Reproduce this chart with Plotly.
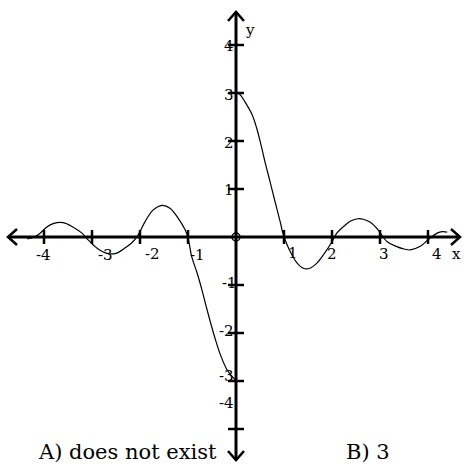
import plotly.graph_objects as go

# ---- data ----
x_left = [-4.35, -4.2, -4.08, -3.94, -3.81, -3.6, -3.4, -3.21, -3.08, -2.9, -2.69, -2.5,
          -2.3, -2.17, -2.04, -1.9, -1.73, -1.54, -1.375, -1.21, -1.06, -1.0, -0.92,
          -0.81, -0.71, -0.62, -0.54, -0.44, -0.33, -0.19, -0.06, 0.0]
y_left = [-0.04, 0.0, 0.08, 0.21, 0.28, 0.3, 0.21, 0.08, -0.06, -0.23, -0.34, -0.34,
          -0.22, -0.12, 0.04, 0.31, 0.56, 0.66, 0.6, 0.4, 0.15, -0.02, -0.42,
          -0.75, -1.1, -1.45, -1.75, -2.1, -2.44, -2.76, -2.93, -2.98]

x_right = [0.0, 0.08, 0.19, 0.33, 0.43, 0.54, 0.6, 0.71, 0.81, 0.92, 0.98, 1.06, 1.17,
           1.27, 1.4, 1.54, 1.69, 1.85, 2.0, 2.1, 2.23, 2.4, 2.54, 2.65, 2.79, 2.96,
           3.15, 3.35, 3.5, 3.63, 3.83, 4.0, 4.19, 4.3, 4.4]
y_right = [3.0, 2.97, 2.81, 2.56, 2.27, 1.84, 1.58, 1.15, 0.75, 0.32, 0.07, -0.15, -0.38,
           -0.54, -0.65, -0.65, -0.54, -0.33, -0.1, 0.08, 0.21, 0.34, 0.38, 0.37, 0.31, 0.15,
           -0.1, -0.2, -0.25, -0.27, -0.2, -0.06, 0.08, 0.11, 0.1]

x_ticks = [-4, -3, -2, -1, 1, 2, 3, 4]
y_ticks = [-4, -3, -2, -1, 1, 2, 3, 4]
x_tick_labels = ["-4", "-3", "-2", "-1", "1", "2", "3", "4"]
y_tick_labels = ["-4", "-3", "-2", "-1", "1", "2", "3", "4"]
answer_a = "A) does not exist"
answer_b = "B) 3"

# ---- layout helpers (pixel scale: 48 px per unit, origin at 236,237) ----
W, H = 464, 466
PX = 48.0
OX, OY = 236, 237
def dx(px): return (px - OX) / PX
def dy(py): return (OY - py) / PX

x_min, x_max = dx(0), dx(W)
y_min, y_max = dy(H), dy(0)

fig = go.Figure()
black = "#000000"

# axes
ax_l, ax_r = dx(8), dx(460)
ax_t, ax_b = dy(12), dy(460)
fig.add_trace(go.Scatter(x=[ax_l, ax_r], y=[0, 0], mode="lines",
                         line=dict(color=black, width=3), hoverinfo="skip"))
fig.add_trace(go.Scatter(x=[0, 0], y=[ax_b, ax_t], mode="lines",
                         line=dict(color=black, width=3), hoverinfo="skip"))

# arrowheads (open chevrons)
ah = 9 / PX
aw = 8 / PX
arrow_x = [ax_l + ah, ax_l, ax_l + ah, None, ax_r - ah, ax_r, ax_r - ah, None,
           -aw, 0, aw, None, -aw, 0, aw]
arrow_y = [aw, 0, -aw, None, aw, 0, -aw, None,
           ax_t - ah, ax_t, ax_t - ah, None, ax_b + ah, ax_b, ax_b + ah]
fig.add_trace(go.Scatter(x=arrow_x, y=arrow_y, mode="lines",
                         line=dict(color=black, width=2.5), hoverinfo="skip"))

# ticks
tl = 7 / PX
tx, ty = [], []
for v in x_ticks:
    tx += [v, v, None]
    ty += [-tl, tl, None]
for v in y_ticks:
    tx += [-8 / PX, 8 / PX, None]
    ty += [v, v, None]
fig.add_trace(go.Scatter(x=tx, y=ty, mode="lines",
                         line=dict(color=black, width=2.5), hoverinfo="skip"))

# curve
fig.add_trace(go.Scatter(x=x_left, y=y_left, mode="lines", line_shape="spline",
                         line=dict(color=black, width=1.2), hoverinfo="skip"))
fig.add_trace(go.Scatter(x=x_right, y=y_right, mode="lines", line_shape="spline",
                         line=dict(color=black, width=1.2), hoverinfo="skip"))

# origin circle
fig.add_trace(go.Scatter(x=[0], y=[0], mode="markers",
                         marker=dict(symbol="circle-open", size=8, color=black,
                                     line=dict(width=1.5)), hoverinfo="skip"))

font_tick = dict(family="DejaVu Serif", size=15, color=black)
# x tick label pixel centres
x_lab_px = [(43, 255), (105, 255), (152, 254), (197, 255),
            (293, 253), (332, 254), (384, 254), (437, 254)]
for lab, (px, py) in zip(x_tick_labels, x_lab_px):
    fig.add_annotation(x=dx(px), y=dy(py), text=lab, showarrow=False,
                       xanchor="center", yanchor="middle", font=font_tick)
y_lab_px = [(226, 403), (226, 376), (226, 331), (229, 283),
            (229, 190), (229, 143), (229, 95), (229, 46)]
for lab, (px, py) in zip(y_tick_labels, y_lab_px):
    fig.add_annotation(x=dx(px), y=dy(py), text=lab, showarrow=False,
                       xanchor="center", yanchor="middle", font=font_tick)

fig.add_annotation(x=dx(456), y=dy(254), text="x", showarrow=False,
                   xanchor="center", yanchor="middle", font=font_tick)
fig.add_annotation(x=dx(250), y=dy(30), text="y", showarrow=False,
                   xanchor="center", yanchor="middle", font=font_tick)

font_ans = dict(family="DejaVu Serif", size=21, color=black)
fig.add_annotation(x=dx(36), y=dy(452), text=answer_a, showarrow=False,
                   xanchor="left", yanchor="middle", font=font_ans)
fig.add_annotation(x=dx(368), y=dy(452), text=answer_b, showarrow=False,
                   xanchor="center", yanchor="middle", font=font_ans)

fig.update_layout(
    width=W, height=H, autosize=False,
    margin=dict(l=0, r=0, t=0, b=0, pad=0),
    paper_bgcolor="white", plot_bgcolor="white",
    showlegend=False,
    xaxis=dict(range=[x_min, x_max], visible=False, fixedrange=True),
    yaxis=dict(range=[y_min, y_max], visible=False, fixedrange=True),
)

fig.write_html("out.html", config={"displayModeBar": False, "staticPlot": True},
               post_script="document.body.style.margin='0';document.body.style.padding='0';document.body.style.overflow='hidden';")
